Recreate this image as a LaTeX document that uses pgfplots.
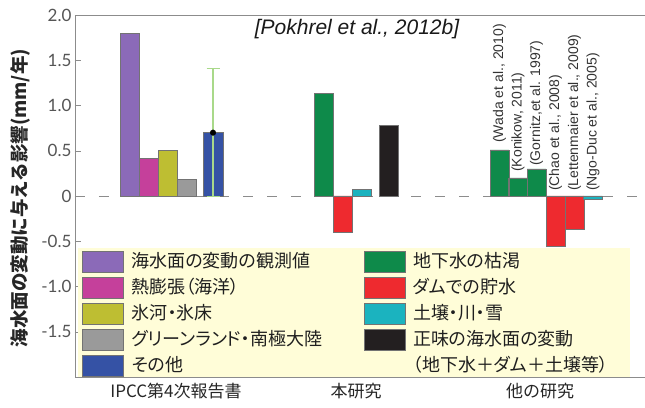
\documentclass[border=0pt]{standalone}
\usepackage{fontspec}
\usepackage{pgfplots}
\pgfplotsset{compat=1.18}
\setmainfont{Noto Sans CJK JP}
\newfontfamily\cjk{Noto Sans CJK JP}
\newfontfamily\cjkp[RawFeature=+palt]{Noto Sans CJK JP}
\newfontfamily\tickfont{Lato}
\newfontfamily\reffont{Liberation Sans}
\definecolor{cPurple}{HTML}{8B6AB8}
\definecolor{cPink}{HTML}{C5409B}
\definecolor{cOlive}{HTML}{BEBE32}
\definecolor{cGray}{HTML}{9A9A9A}
\definecolor{cBlue}{HTML}{3552A5}
\definecolor{cGreen}{HTML}{0E8A4A}
\definecolor{cRed}{HTML}{EE2A2F}
\definecolor{cCyan}{HTML}{1BB3BF}
\definecolor{cBlack}{HTML}{231F20}
\definecolor{cLegBg}{HTML}{FFFDD8}
\definecolor{cErr}{HTML}{A9D98A}
\definecolor{cAxis}{HTML}{8C8C8C}
\definecolor{cTick}{HTML}{555555}
\begin{document}
\begin{tikzpicture}
\path[use as bounding box] (-75pt,-30pt) rectangle (570pt,377pt);
\begin{axis}[
  scale only axis, width=575pt, height=362pt,
  xmin=75, xmax=650, ymin=-2, ymax=2,
  axis line style={cAxis, line width=0.8pt},
  xtick={176,356,540},
  xticklabels={IPCC第4次報告書,本研究,他の研究},
  x tick style={draw=none},
  extra x ticks={196,361,537},
  extra x tick labels={},
  extra x tick style={major tick length=3pt, tick style={cAxis, draw=cAxis}},
  xtick pos=left, ytick pos=left, tick align=inside,
  major tick length=6pt,
  ytick={-1.5,-1,-0.5,0,0.5,1,1.5,2},
  yticklabels={-1.5,-1.0,-0.5,0,0.5,1.0,1.5,2.0},
  y tick style={cAxis},
  yticklabel style={font=\tickfont\fontsize{17}{17}\selectfont, text=cTick},
  xticklabel style={font=\cjk\fontsize{17}{17}\selectfont, text=black!85, yshift=-3pt},
  ylabel={海水面の変動に与える影響(mm/年)},
  ylabel style={font=\cjk\bfseries\fontsize{18.5}{18.5}\selectfont, text=black!85, at={(axis description cs:-0.0957,0.494)}, anchor=center},
  legend columns=2,
  legend cell align=left,
  legend image code/.code={\draw[#1] (0pt,-10.5pt) rectangle (41pt,10.5pt);},
  legend style={at={(axis description cs:0.01217,0.348)}, anchor=north west,
    fill=none, draw=none, inner sep=0pt, column sep=8pt, row sep=4.5pt,
    nodes={inner sep=0pt, anchor=west, text width=224pt, text height=14.5pt, text depth=3pt,
      font=\cjkp\fontsize{18}{18}\selectfont, text=black!88}},
]
% legend background
\fill[cLegBg] (axis cs:78,-0.5746) rectangle (axis cs:630,-2);
% zero line
\addplot[forget plot, cAxis, line width=0.9pt, dash pattern=on 10pt off 14pt] coordinates {(75,0) (650,0)};
% IPCC AR4
\addplot[forget plot, ybar, bar width=18.8pt, bar shift=0pt, fill=cPurple, draw=black!55, line width=0.5pt] coordinates {(130,1.80)};
\addplot[forget plot, ybar, bar width=18.8pt, bar shift=0pt, fill=cPink, draw=black!55, line width=0.5pt] coordinates {(148.5,0.42)};
\addplot[forget plot, ybar, bar width=18.8pt, bar shift=0pt, fill=cOlive, draw=black!55, line width=0.5pt] coordinates {(167.5,0.50)};
\addplot[forget plot, ybar, bar width=18.8pt, bar shift=0pt, fill=cGray, draw=black!55, line width=0.5pt] coordinates {(186.5,0.19)};
\addplot[forget plot, ybar, bar width=19.5pt, bar shift=0pt, fill=cBlue, draw=black!55, line width=0.5pt] coordinates {(213,0.70)};
% This study and other studies
\addplot[forget plot, ybar, bar width=18.8pt, bar shift=0pt, fill=cGreen, draw=black!55, line width=0.5pt] coordinates {(323.5,1.13) (499.5,0.51) (518,0.20) (536.5,0.30)};
\addplot[forget plot, ybar, bar width=18.8pt, bar shift=0pt, fill=cRed, draw=black!55, line width=0.5pt] coordinates {(342.5,-0.40) (555.5,-0.56) (574.5,-0.37)};
\addplot[forget plot, ybar, bar width=18.8pt, bar shift=0pt, fill=cCyan, draw=black!55, line width=0.5pt] coordinates {(361.5,0.07) (593,-0.04)};
\addplot[forget plot, ybar, bar width=18.8pt, bar shift=0pt, fill=cBlack, draw=black!55, line width=0.5pt] coordinates {(388.5,0.78)};
% error bar
\addplot[forget plot, only marks, mark=*, mark size=2.8pt, black,
  error bars/.cd, y dir=both, y explicit,
  error bar style={color=cErr, line width=1.1pt},
  error mark options={rotate=90, mark size=6.5pt, color=cErr, line width=1.1pt}]
  coordinates {(213,0.70) +- (0,0.71)};
% annotations
\node[font=\reffont\itshape\fontsize{21}{21}\selectfont, text=black!90] at (axis cs:357,1.845) {[Pokhrel et al., 2012b]};
\begin{scope}[every node/.style={rotate=90, anchor=west, inner sep=0pt, font=\reffont\fontsize{14}{14}\selectfont, text=black!80}]
\node at (axis cs:499.5,0.587) {(Wada et al., 2010)};
\node at (axis cs:518,0.266) {(Konikow, 2011)};
\node at (axis cs:536.5,0.333) {(Gornitz,et al. 1997)};
\node at (axis cs:555.5,0.055) {(Chao et al., 2008)};
\node at (axis cs:574.5,0.055) {(Lettenmaier et al., 2009)};
\node at (axis cs:593,0.055) {(Ngo-Duc et al., 2005)};
\end{scope}
% legend
\addlegendimage{fill=cPurple, draw=black!55}
\addlegendentry{海水面の変動の観測値}
\addlegendimage{fill=cGreen, draw=black!55}
\addlegendentry{地下水の枯渇}
\addlegendimage{fill=cPink, draw=black!55}
\addlegendentry{熱膨張（海洋）}
\addlegendimage{fill=cRed, draw=black!55}
\addlegendentry{ダムでの貯水}
\addlegendimage{fill=cOlive, draw=black!55}
\addlegendentry{氷河・氷床}
\addlegendimage{fill=cCyan, draw=black!55}
\addlegendentry{土壌・川・雪}
\addlegendimage{fill=cGray, draw=black!55}
\addlegendentry{グリーンランド・南極大陸}
\addlegendimage{fill=cBlack, draw=black!55}
\addlegendentry{正味の海水面の変動}
\addlegendimage{fill=cBlue, draw=black!55}
\addlegendentry{その他}
\addlegendimage{empty legend}
\addlegendentry{（地下水＋ダム＋土壌等）}
\end{axis}
\end{tikzpicture}
\end{document}
